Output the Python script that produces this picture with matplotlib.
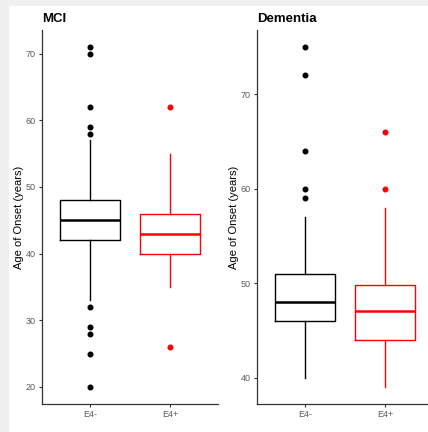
import matplotlib
matplotlib.use("Agg")
import matplotlib.pyplot as plt
from matplotlib.patches import Rectangle

plt.rcParams['font.family'] = ['Liberation Sans', 'DejaVu Sans']

groups = ["E4-", "E4+"]
colors = ["black", "red"]

# MCI stats: (whislo, q1, med, q3, whishi), outliers
mci_stats = [(33, 42, 45, 48, 57), (35, 40, 43, 46, 55)]
mci_out = [[71, 70, 62, 59, 58, 32, 29, 28, 25, 20], [62, 26]]
mci_ticks = [20, 30, 40, 50, 60, 70]

dem_stats = [(40, 46, 48, 51, 57), (39, 44, 47, 49.75, 58)]
dem_out = [[75, 72, 64, 60, 59], [66, 60]]
dem_ticks = [40, 50, 60, 70]

W, H = 428, 432
fig = plt.figure(figsize=(W / 100, H / 100), dpi=100, facecolor="#f0f0f0")
fig.patches.append(Rectangle((9 / W, 0), 1, (H - 6) / H, transform=fig.transFigure,
                             facecolor="white", edgecolor="none", zorder=-10))


def panel(left, title, stats, outs, ticks):
    ax = fig.add_axes([left / W, (H - 404) / H, 176 / W, 374 / H])
    ax.set_facecolor("none")
    bxp = []
    for s, o in zip(stats, outs):
        bxp.append(dict(whislo=s[0], q1=s[1], med=s[2], q3=s[3], whishi=s[4], fliers=o))
    for i, (b, c) in enumerate(zip(bxp, colors)):
        ax.bxp([b], positions=[i + 1], widths=0.75, showcaps=False,
               boxprops=dict(color=c, linewidth=1.0),
               whiskerprops=dict(color=c, linewidth=1.0),
               medianprops=dict(color=c, linewidth=1.8),
               flierprops=dict(marker="o", markerfacecolor=c, markeredgecolor=c,
                               markersize=3.3, linestyle="none"))
    allv = [v for s in stats for v in s] + [v for o in outs for v in o]
    lo, hi = min(allv), max(allv)
    pad = (hi - lo) * 0.05
    ax.set_ylim(lo - pad, hi + pad)
    ax.set_xlim(0.4, 2.6)
    ax.set_xticks([1, 2])
    ax.set_xticklabels(groups)
    ax.set_yticks(ticks)
    ax.set_yticklabels([str(t) for t in ticks])
    for sp in ["top", "right"]:
        ax.spines[sp].set_visible(False)
    for sp in ["left", "bottom"]:
        ax.spines[sp].set_color("#333333")
        ax.spines[sp].set_linewidth(0.9)
    ax.tick_params(axis="both", colors="#333333", labelcolor="#5a5a5a",
                   labelsize=6.5, length=2.5, width=0.8, pad=2)
    ax.set_ylabel("Age of Onset (years)", fontsize=8, color="black", labelpad=1.5)
    ax.set_title(title, loc="left", fontsize=9.5, fontweight="bold", pad=6)
    return ax


panel(42, "MCI", mci_stats, mci_out, mci_ticks)
panel(257, "Dementia", dem_stats, dem_out, dem_ticks)

fig.savefig("out.png", dpi=100, facecolor=fig.get_facecolor())
